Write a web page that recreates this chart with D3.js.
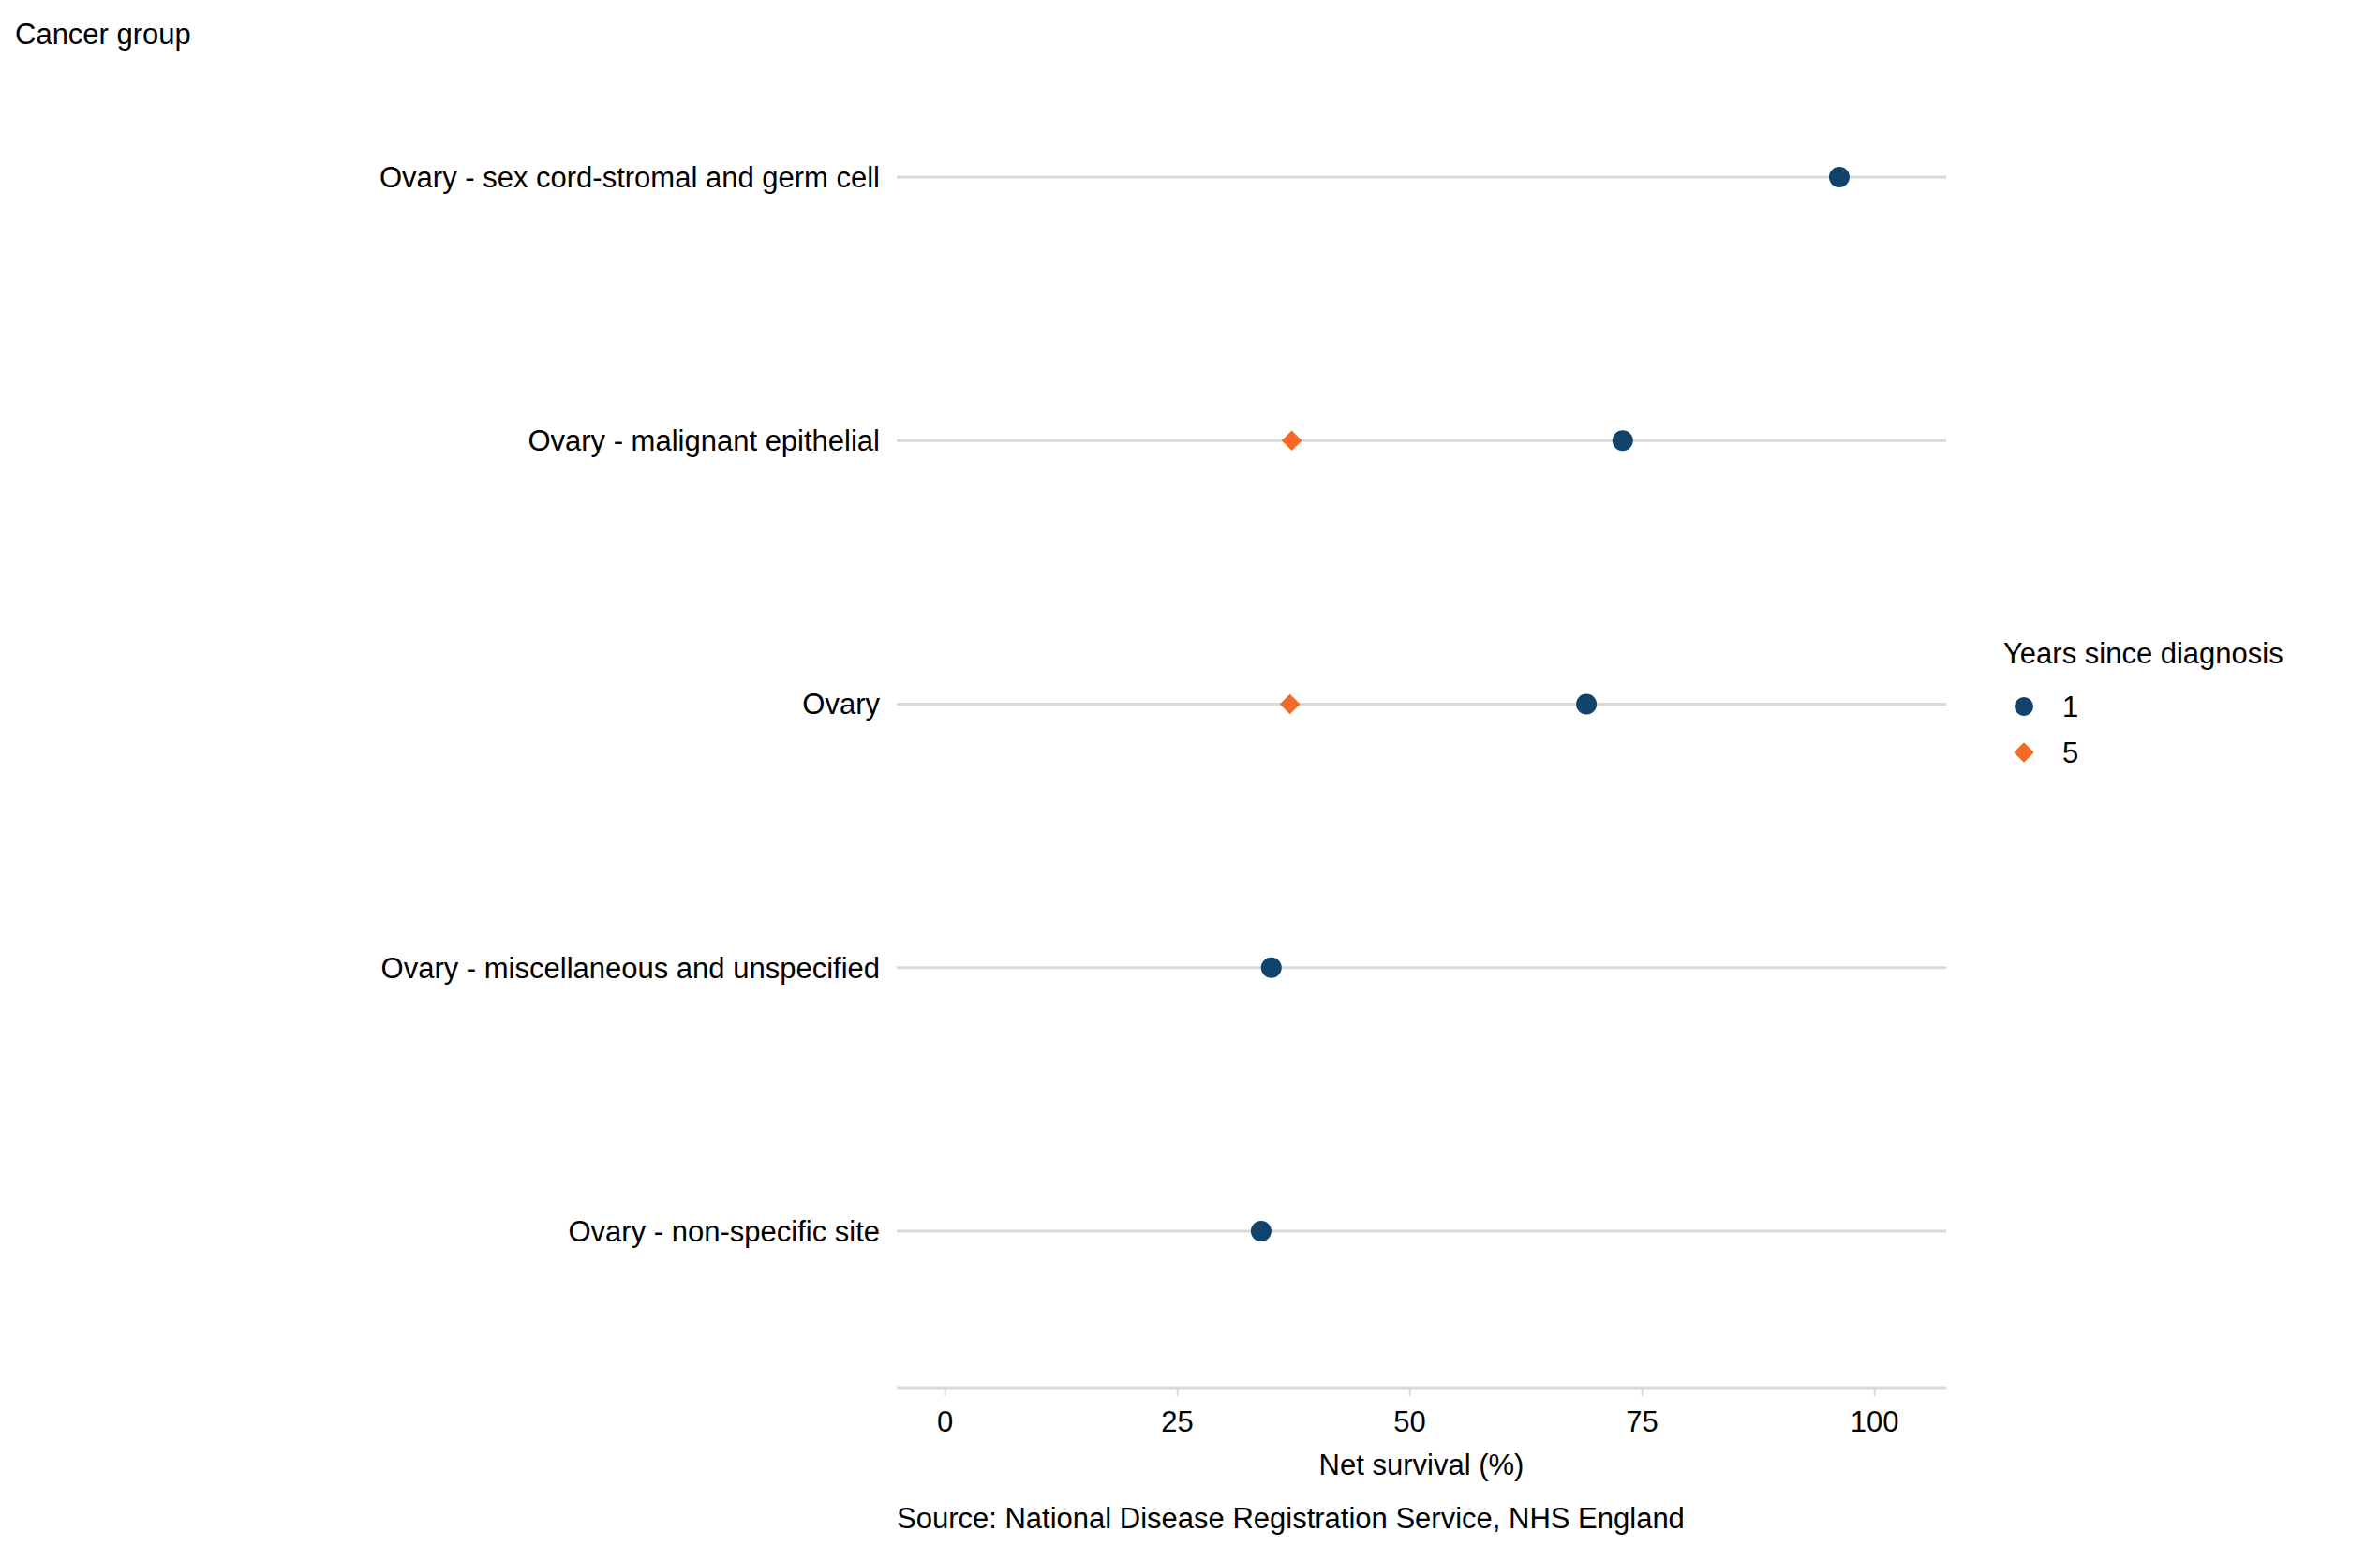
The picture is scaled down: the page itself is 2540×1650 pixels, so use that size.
<!DOCTYPE html>
<html>
<head>
<meta charset="utf-8">
<script src="https://cdn.jsdelivr.net/npm/d3@7"></script>
<style>
  body { margin: 0; background: #fff; }
  text { font-family: "Liberation Sans", Arial, sans-serif; fill: #000; }
</style>
</head>
<body>
<svg id="chart" width="2540" height="1650"></svg>
<script>
// cancer groups, top to bottom
var groups = [
  'Ovary - sex cord-stromal and germ cell',
  'Ovary - malignant epithelial',
  'Ovary',
  'Ovary - miscellaneous and unspecified',
  'Ovary - non-specific site'
];
// net survival (%) at 1 year and 5 years (null = not shown)
var oneYear = [96.2, 72.9, 69.0, 35.1, 34.0];
var fiveYear = [null, 37.3, 37.1, null, null];
var xTicks = [0, 25, 50, 75, 100];

var navy = '#12436d', orange = '#f46a25';

var svg = d3.select('#chart');

var x = d3.scaleLinear().domain([-5.2, 107.7]).range([957, 2077]);
var y = d3.scalePoint().domain(groups).range([189, 1314]);

// grid lines per group
svg.selectAll('line.grid')
  .data(groups)
  .enter().append('line')
  .attr('x1', x.range()[0]).attr('x2', x.range()[1])
  .attr('y1', function(d) { return y(d); })
  .attr('y2', function(d) { return y(d); })
  .attr('stroke', '#d9d9d9').attr('stroke-width', 3);

// y labels
svg.selectAll('text.ylab')
  .data(groups)
  .enter().append('text')
  .attr('x', 939)
  .attr('y', function(d) { return y(d); })
  .attr('dy', '0.35em')
  .attr('text-anchor', 'end')
  .style('font-size', '31px')
  .text(function(d) { return d; });

// x axis
var xAxisG = svg.append('g').attr('transform', 'translate(0,1481)');
xAxisG.append('line')
  .attr('x1', x.range()[0]).attr('x2', x.range()[1])
  .attr('stroke', '#d9d9d9').attr('stroke-width', 3);
xAxisG.selectAll('line.tick')
  .data(xTicks)
  .enter().append('line')
  .attr('x1', function(d) { return x(d); })
  .attr('x2', function(d) { return x(d); })
  .attr('y1', 0).attr('y2', 9)
  .attr('stroke', '#d9d9d9').attr('stroke-width', 2);
xAxisG.selectAll('text')
  .data(xTicks)
  .enter().append('text')
  .attr('x', function(d) { return x(d); })
  .attr('y', 36)
  .attr('dy', '0.35em')
  .attr('text-anchor', 'middle')
  .style('font-size', '31px')
  .text(function(d) { return d; });

svg.append('text')
  .attr('x', (x.range()[0] + x.range()[1]) / 2).attr('y', 1574)
  .attr('text-anchor', 'middle').style('font-size', '31px')
  .text('Net survival (%)');
svg.append('text')
  .attr('x', 957).attr('y', 1631)
  .style('font-size', '31px')
  .text('Source: National Disease Registration Service, NHS England');
svg.append('text')
  .attr('x', 16).attr('y', 47)
  .style('font-size', '31px')
  .text('Cancer group');

// points
var diamond = d3.symbol().type(d3.symbolDiamond2).size(300);
svg.selectAll('path.five')
  .data(groups.map(function(g, i) { return { g: g, v: fiveYear[i] }; })
    .filter(function(d) { return d.v != null; }))
  .enter().append('path')
  .attr('d', diamond)
  .attr('transform', function(d) { return 'translate(' + x(d.v) + ',' + y(d.g) + ')'; })
  .attr('fill', orange);
svg.selectAll('circle.one')
  .data(groups.map(function(g, i) { return { g: g, v: oneYear[i] }; }))
  .enter().append('circle')
  .attr('cx', function(d) { return x(d.v); })
  .attr('cy', function(d) { return y(d.g); })
  .attr('r', 11)
  .attr('fill', navy);

// legend
var leg = svg.append('g');
leg.append('text').attr('x', 2138).attr('y', 708)
  .style('font-size', '31px').text('Years since diagnosis');
leg.append('circle').attr('cx', 2160).attr('cy', 754).attr('r', 10).attr('fill', navy);
leg.append('path').attr('d', diamond).attr('transform', 'translate(2160,803)').attr('fill', orange);
leg.append('text').attr('x', 2201).attr('y', 754).attr('dy', '0.35em')
  .style('font-size', '31px').text('1');
leg.append('text').attr('x', 2201).attr('y', 803).attr('dy', '0.35em')
  .style('font-size', '31px').text('5');
</script>
</body>
</html>
